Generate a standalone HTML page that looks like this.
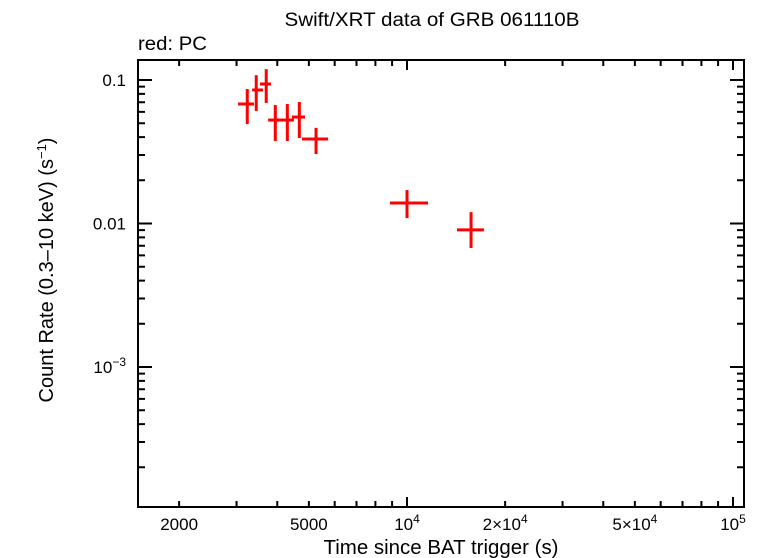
<!DOCTYPE html>
<html><head><meta charset="utf-8"><style>
body{margin:0;background:#fff}
svg{display:block;font-family:"Liberation Sans",sans-serif}
</style></head><body>
<svg id="c" width="761" height="558">
<text x="432" y="26" font-size="19" text-anchor="middle" textLength="295" lengthAdjust="spacingAndGlyphs">Swift/XRT data of GRB 061110B</text>
<text x="138" y="50" font-size="19" textLength="69" lengthAdjust="spacingAndGlyphs">red: PC</text>
<text x="441" y="554" font-size="20" text-anchor="middle" textLength="235" lengthAdjust="spacingAndGlyphs">Time since BAT trigger (s)</text>
<text transform="translate(53,270) rotate(-90)" font-size="20" text-anchor="middle">Count Rate (0.3–10 keV) (s<tspan dy="-7" font-size="13">−1</tspan><tspan dy="7">)</tspan></text>
<g id="ticks"></g><g id="marks"></g>
<rect x="138" y="60" width="606" height="447" fill="none" stroke="#000" stroke-width="2"/>
</svg>
<script>
const times=[3236,3448,3700,3945,4295,4675,5260,10000,15720];
const timeLo=[3032,3350,3540,3750,4165,4436,4764,8870,14230];
const timeHi=[3394,3616,3828,4165,4500,4865,5728,11600,17220];
const rates=[0.068,0.0852,0.0938,0.0526,0.0526,0.0552,0.0388,0.0139,0.00902];
const rateLo=[0.0493,0.0609,0.0692,0.0376,0.0376,0.0394,0.0305,0.0109,0.00675];
const rateHi=[0.0865,0.108,0.119,0.067,0.068,0.0703,0.0464,0.0171,0.012];
const xTickVals=[2000,5000,10000,20000,50000,100000];
const xTickLabels=["2000","5000","10<tspan dy='-7' font-size='12'>4</tspan>","2×10<tspan dy='-7' font-size='12'>4</tspan>","5×10<tspan dy='-7' font-size='12'>4</tspan>","10<tspan dy='-7' font-size='12'>5</tspan>"];
const yTickVals=[0.1,0.01,0.001];
const yTickLabels=["0.1","0.01","10<tspan dy='-7' font-size='12'>−3</tspan>"];
const X=t=>407+326*(Math.log10(t)-4);
const Y=r=>80-143.5*(Math.log10(r)+1);
const NS="http://www.w3.org/2000/svg";
function mk(tag,attrs,parent){const e=document.createElementNS(NS,tag);for(const k in attrs)e.setAttribute(k,attrs[k]);parent.appendChild(e);return e;}
const tg=document.getElementById('ticks'),mg=document.getElementById('marks');
let d="";
for(let p=3;p<=5;p++)for(let m=1;m<10;m++){const v=m*Math.pow(10,p);const x=X(v);if(x<138||x>744)continue;const L=m==1?10:6;d+=`M${x},507v${-L}M${x},60v${L}`;}
for(let p=-4;p<=-1;p++)for(let m=1;m<10;m++){const v=m*Math.pow(10,p);const y=Y(v);if(y<60||y>507)continue;const L=m==1?14:7;d+=`M138,${y}h${L}M744,${y}h${-L}`;}
const tp=mk('path',{d:d,stroke:'#000','stroke-width':2,fill:'none'},tg);


xTickVals.forEach((v,i)=>{const t=mk('text',{x:X(v),y:530,'font-size':17,'text-anchor':'middle'},tg);t.innerHTML=xTickLabels[i];

});
yTickVals.forEach((v,i)=>{const t=mk('text',{x:126,y:Y(v)+6,'font-size':17,'text-anchor':'end'},tg);t.innerHTML=yTickLabels[i];

});
times.forEach((t,i)=>{const g=mk('g',{stroke:'#f00','stroke-width':3},mg);


mk('line',{x1:X(timeLo[i]),x2:X(timeHi[i]),y1:Y(rates[i]),y2:Y(rates[i])},g);
mk('line',{x1:X(t),x2:X(t),y1:Y(rateLo[i]),y2:Y(rateHi[i])},g);});
</script>
</body></html>
